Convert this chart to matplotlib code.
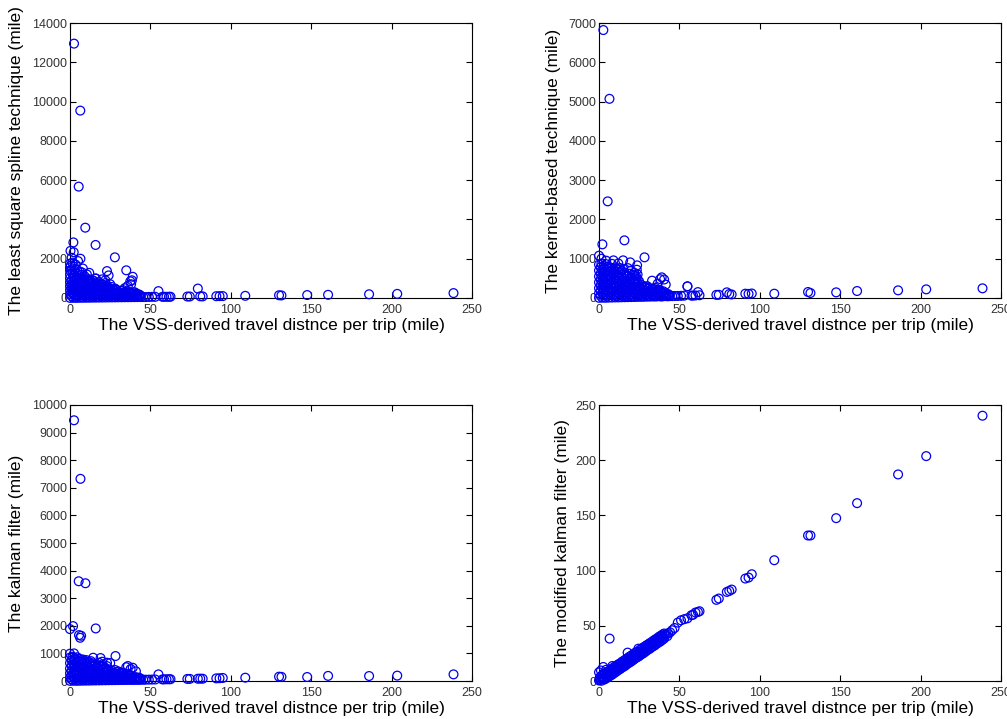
import matplotlib
matplotlib.use("Agg")
import matplotlib.pyplot as plt

plt.rcParams['font.family'] = ['Liberation Sans', 'DejaVu Sans']

# ---------------- data ----------------
x_label = "The VSS-derived travel distnce per trip (mile)"
y_labels = ["The least square spline technique (mile)",
            "The kernel-based technique (mile)",
            "The kalman filter (mile)",
            "The modified kalman filter (mile)"]
x_ticks = [0, 50, 100, 150, 200, 250]
y_ticks = [[0, 2000, 4000, 6000, 8000, 10000, 12000, 14000],
           [0, 1000, 2000, 3000, 4000, 5000, 6000, 7000],
           [0, 1000, 2000, 3000, 4000, 5000, 6000, 7000, 8000, 9000, 10000],
           [0, 50, 100, 150, 200, 250]]

# long trips (shared VSS distances, > 45 miles)
tail_x = [45.5, 47, 49, 51, 53, 55, 57.5, 58.5, 60, 61.5, 62.5, 73, 74.5, 79.5,
          81, 82.5, 91, 93, 95, 109, 130, 131.5, 147.5, 160.5, 186, 203.5, 238.5]
spline_tail_y = [50, 48, 55, 60, 60, 350, 60, 65, 62, 64, 65, 75, 76, 480,
                 85, 82, 92, 95, 97, 110, 140, 130, 150, 162, 190, 210, 250]
kernel_tail_y = [48, 50, 52, 55, 60, 295, 60, 62, 65, 150, 70, 80, 82, 144,
                 100, 90, 110, 105, 115, 110, 153, 127, 144, 178, 195, 220, 246]
kalman_tail_y = [45, 48, 50, 52, 55, 240, 58, 60, 62, 63, 65, 75, 76, 82,
                 85, 83, 95, 100, 110, 120, 157, 150, 145, 185, 180, 195, 240]
modkal_tail_y = [46, 48, 52.9, 55, 56, 56.8, 59.6, 60, 62, 62.5, 63.2, 73.5, 74.7, 80.7,
                 81.6, 82.8, 92.8, 93.7, 96.7, 109.4, 131.8, 131.8, 147.5, 161.1, 187.1, 203.7, 240.3]

# short trips, least square spline technique
spline_pts = [
    (2.5, 12950), (6.4, 9540), (5.4, 5670), (9.5, 3580), (15.9, 2700), (2.1, 2830),
    (27.9, 2070), (0.3, 2400), (2.3, 2330), (6.5, 2000), (5, 1880), (35, 1410),
    (23, 1370), (39, 1080), (37.5, 850), (12, 1280), (1, 2050), (3.5, 1700),
    (8, 1500), (16, 1000), (20, 950), (24, 1150), (25, 700), (36, 620), (38, 700),
    (33, 400), (41, 250), (30, 300), (22, 900), (38.5, 900), (34, 500),
    (0, 1750), (0.5, 1650), (1.5, 1800), (2.5, 1600), (0, 1550),
    (0, 1400), (1, 1450), (3, 1380), (4.5, 1420), (6, 1350), (7.5, 1300),
    (0, 1200), (1.5, 1250), (3, 1150), (5, 1220), (7, 1180), (9, 1120), (10.5, 1200),
    (0, 1000), (2, 1050), (4, 980), (6, 1020), (8, 960), (10, 1000), (12, 950),
    (14, 900), (16, 980),
    (1, 900), (3, 920), (5, 880), (7, 940), (9, 900), (11, 860), (13, 850), (15, 860),
    (0, 800), (2, 820), (4, 780), (6, 840), (8, 800), (10, 760), (12, 820), (14, 780),
    (16, 740), (18, 800), (20, 700), (22, 760),
    (1, 700), (3, 720), (5, 680), (7, 740), (9, 700), (11, 660), (13, 720), (15, 680),
    (17, 640), (19, 700), (21, 650), (23, 620),
    (0, 600), (2, 620), (4, 580), (6, 640), (8, 600), (10, 560), (12, 620), (14, 580),
    (16, 540), (18, 600), (20, 560), (22, 600), (24, 520), (26, 560), (28, 480),
    (1, 500), (3, 520), (5, 480), (7, 540), (9, 500), (11, 460), (13, 520), (15, 480),
    (17, 440), (19, 500), (21, 460), (23, 510), (25, 470), (27, 430), (29, 420),
    (0, 400), (2, 420), (4, 380), (6, 440), (8, 400), (10, 360), (12, 420), (14, 380),
    (16, 340), (18, 400), (20, 360), (22, 420), (24, 380), (26, 340), (28, 380),
    (30, 320), (32, 360), (34, 300), (36, 340), (38, 260), (40, 300),
    (1, 300), (3, 320), (5, 280), (7, 340), (9, 300), (11, 260), (13, 320), (15, 280),
    (17, 240), (19, 300), (21, 260), (23, 320), (25, 280), (27, 240), (29, 280),
    (31, 250), (33, 270), (35, 230), (37, 250), (39, 210), (41, 220), (43, 180),
    (0, 200), (2, 220), (4, 180), (6, 240), (8, 200), (10, 160), (12, 220), (14, 180),
    (16, 140), (18, 200), (20, 160), (22, 220), (24, 180), (26, 140), (28, 200),
    (30, 160), (32, 220), (34, 180), (36, 140), (38, 200), (40, 160), (42, 180), (44, 120),
    (1, 100), (3, 110), (5, 90), (7, 120), (9, 100), (11, 80), (13, 110), (15, 90),
    (17, 70), (19, 100), (21, 80), (23, 110), (25, 90), (27, 70), (29, 100), (31, 80),
    (33, 110), (35, 90), (37, 70), (39, 100), (41, 80), (43, 90),
    (0, 5), (2, 8), (4, 6), (6, 10), (8, 12), (10, 14), (12, 15), (14, 18), (16, 20),
    (18, 22), (20, 24), (22, 26), (24, 28), (26, 30), (28, 32), (30, 34), (32, 36),
    (34, 38), (36, 40), (38, 42), (40, 44), (42, 46), (44, 48),
]

# short trips, kernel-based technique
kernel_pts = [
    (2.7, 6820), (6.5, 5070), (5.4, 2460), (2.1, 1366), (15.8, 1467), (28.3, 1035),
    (0, 1077), (39, 526), (55, 297), (33, 441), (36.5, 365), (41.5, 340), (23.7, 831),
    (9, 958), (15, 958), (19.4, 907), (4.5, 950), (12, 880), (38, 480), (30, 300),
    (35, 260), (1.5, 1000), (24, 600), (40.5, 470),
    (0, 850), (1.5, 880), (3, 820), (4.5, 860), (6, 800), (8, 870), (10, 780),
    (1, 780), (3, 760), (5, 790), (7, 770), (9, 740), (11, 750), (13, 760), (15, 740),
    (0, 700), (2, 720), (4, 680), (6, 740), (8, 700), (10, 660), (12, 720), (14, 690),
    (16, 650), (18, 760), (20, 700), (22, 640), (23.5, 720),
    (1, 620), (3, 640), (5, 600), (7, 660), (9, 620), (11, 590), (13, 640), (15, 600),
    (17, 580), (19, 620), (21, 590), (23, 560),
    (0, 550), (2, 570), (4, 530), (6, 590), (8, 550), (10, 510), (12, 570), (14, 530),
    (16, 490), (18, 550), (20, 510), (22, 570), (24, 480),
    (1, 470), (3, 490), (5, 460), (7, 510), (9, 470), (11, 440), (13, 490), (15, 450),
    (17, 420), (19, 470), (21, 440), (23, 480), (25, 420),
    (0, 400), (2, 420), (4, 380), (6, 440), (8, 400), (10, 360), (12, 420), (14, 380),
    (16, 340), (18, 400), (20, 360), (22, 420), (24, 380), (26, 340), (28, 300),
    (1, 320), (3, 340), (5, 310), (7, 350), (9, 320), (11, 300), (13, 340), (15, 310),
    (17, 290), (19, 330), (21, 300), (23, 330), (25, 300), (27, 280), (29, 260),
    (31, 250), (33, 240), (35, 220), (37, 210),
    (0, 250), (2, 270), (4, 230), (6, 260), (8, 240), (10, 280), (12, 230), (14, 260),
    (16, 220), (18, 270), (20, 230), (22, 250), (24, 210), (26, 240), (28, 200),
    (30, 230), (32, 190), (34, 210), (36, 180), (38, 200), (40, 170),
    (1, 180), (3, 190), (5, 170), (7, 200), (9, 180), (11, 160), (13, 190), (15, 170),
    (17, 150), (19, 180), (21, 160), (23, 190), (25, 170), (27, 150), (29, 170),
    (31, 150), (33, 160), (35, 140), (37, 150), (39, 130), (41, 120), (43, 100),
    (0, 120), (2, 130), (4, 110), (6, 140), (8, 120), (10, 100), (12, 130), (14, 110),
    (16, 90), (18, 120), (20, 100), (22, 130), (24, 110), (26, 90), (28, 120),
    (30, 100), (32, 120), (34, 90), (36, 110), (38, 80), (40, 100), (42, 90), (44, 70),
    (1, 60), (3, 65), (5, 55), (7, 70), (9, 60), (11, 50), (13, 65), (15, 55),
    (17, 45), (19, 60), (21, 50), (23, 65), (25, 55), (27, 45), (29, 60), (31, 50),
    (33, 60), (35, 45), (37, 55), (39, 40), (41, 50), (43, 45),
    (0, 5), (2, 8), (4, 6), (6, 10), (8, 12), (10, 14), (12, 15), (14, 18), (16, 20),
    (18, 22), (20, 24), (22, 26), (24, 28), (26, 30), (28, 32), (30, 34), (32, 36),
    (34, 38), (36, 40), (38, 42), (40, 44), (42, 46), (44, 48),
]

# short trips, kalman filter
kalman_pts = [
    (2.5, 9446), (6.5, 7325), (5.4, 3614), (9.6, 3542), (16, 1904), (0, 1880),
    (1.9, 1988), (5.6, 1663), (6.9, 1639), (6.3, 1566), (28.3, 904), (14.4, 843),
    (19, 831), (23, 663), (36, 542), (37.7, 434), (2.5, 1000), (0, 990),
    (35, 500), (39, 480), (25, 650), (30, 350), (32, 300), (41, 350), (20, 700),
    (0, 850), (1.5, 880), (3, 820), (4.5, 860), (6, 800), (8, 780), (10, 760),
    (1, 750), (3, 770), (5, 730), (7, 760), (9, 720), (11, 700), (13, 720),
    (0, 650), (2, 680), (4, 640), (6, 700), (8, 660), (10, 620), (12, 680), (14, 640),
    (16, 600), (18, 660), (20, 600),
    (1, 550), (3, 570), (5, 530), (7, 590), (9, 550), (11, 510), (13, 570), (15, 530),
    (17, 500), (19, 550), (21, 520), (23, 540),
    (0, 450), (2, 470), (4, 430), (6, 490), (8, 450), (10, 410), (12, 470), (14, 430),
    (16, 390), (18, 450), (20, 410), (22, 470), (24, 420), (26, 380), (28, 400),
    (1, 360), (3, 380), (5, 340), (7, 400), (9, 360), (11, 320), (13, 380), (15, 340),
    (17, 310), (19, 360), (21, 320), (23, 370), (25, 330), (27, 300), (29, 330),
    (31, 290), (33, 300),
    (0, 280), (2, 300), (4, 260), (6, 320), (8, 280), (10, 240), (12, 300), (14, 260),
    (16, 220), (18, 280), (20, 240), (22, 300), (24, 260), (26, 220), (28, 280),
    (30, 240), (32, 260), (34, 220), (36, 250), (38, 200),
    (1, 200), (3, 220), (5, 190), (7, 230), (9, 200), (11, 170), (13, 220), (15, 190),
    (17, 160), (19, 200), (21, 170), (23, 210), (25, 180), (27, 160), (29, 190),
    (31, 170), (33, 190), (35, 160), (37, 170), (39, 150), (41, 140), (43, 120),
    (0, 130), (2, 150), (4, 110), (6, 160), (8, 130), (10, 100), (12, 150), (14, 120),
    (16, 90), (18, 140), (20, 110), (22, 150), (24, 120), (26, 90), (28, 130),
    (30, 100), (32, 140), (34, 110), (36, 90), (38, 120), (40, 100), (42, 110), (44, 80),
    (1, 60), (3, 70), (5, 55), (7, 75), (9, 60), (11, 50), (13, 70), (15, 55),
    (17, 45), (19, 65), (21, 50), (23, 70), (25, 55), (27, 45), (29, 60), (31, 50),
    (33, 65), (35, 50), (37, 55), (39, 45), (41, 50), (43, 45),
    (0, 5), (2, 8), (4, 6), (6, 10), (8, 12), (10, 14), (12, 15), (14, 18), (16, 20),
    (18, 22), (20, 24), (22, 26), (24, 28), (26, 30), (28, 32), (30, 34), (32, 36),
    (34, 38), (36, 40), (38, 42), (40, 44), (42, 46), (44, 48),
]

# short trips, modified kalman filter
modkal_pts = [
    (6.6, 38.4), (17.8, 25.7), (24.5, 29.3), (2.7, 12.7), (8.3, 13.6), (0, 7.9),
    (44.2, 44.1), (1.2, 9.5), (4.5, 10.2),
    (0, 0.5), (1, 1.8), (2, 2.4), (3, 3.1), (4, 4.6), (5, 5.2), (6, 6.3), (7, 7.4),
    (8, 8.1), (9, 9.5), (10, 10.2), (11, 11.4), (12, 12.3), (13, 13.6), (14, 14.2),
    (15, 15.5), (16, 16.1), (17, 17.4), (18, 18.6), (19, 19.2), (20, 20.5), (21, 21.3),
    (22, 22.6), (23, 23.2), (24, 24.4), (25, 25.6), (26, 26.1), (27, 27.5), (28, 28.3),
    (29, 29.4), (30, 30.6), (31, 31.2), (32, 32.5), (33, 33.3), (34, 34.6), (35, 35.2),
    (36, 36.4), (37, 37.5), (38, 38.3), (39, 39.6), (40, 40.2), (41, 41.5), (42, 42.4),
    (43, 43.2),
    (0.5, 3.2), (1.5, 4.6), (2.5, 5.8), (3.5, 6.5), (4.5, 7.9), (5.5, 8.4), (6.5, 9.6),
    (7.5, 10.8), (8.5, 11.5), (9.5, 12.7), (10.5, 13.4), (11.5, 14.6), (12.5, 15.5),
    (13.5, 16.3), (14.5, 17.6), (15.5, 18.4), (16.5, 19.5), (17.5, 20.3), (18.5, 21.6),
    (19.5, 22.4), (20.5, 23.5), (21.5, 24.2), (22.5, 25.6), (23.5, 26.4), (25.5, 28.3),
    (26.5, 29.1), (27.5, 30.4), (28.5, 31.2), (29.5, 32.3), (30.5, 33.1), (31.5, 34.2),
    (32.5, 35.0), (33.5, 36.1), (34.5, 37.2), (35.5, 38.0), (36.5, 39.1), (37.5, 40.2),
    (38.5, 41.0), (39.5, 42.1), (40.5, 43.0),
    (1.5, 0.2), (3.5, 1.4), (5.5, 3.1), (7.5, 5.2), (9.5, 7.3), (11.5, 9.4), (13.5, 11.2),
    (15.5, 13.1), (17.5, 15.4), (19.5, 17.2), (21.5, 19.3), (23.5, 21.4), (25.5, 23.2),
    (27.5, 25.1), (29.5, 27.3), (31.5, 29.2), (33.5, 31.4), (35.5, 33.3), (37.5, 35.2),
    (39.5, 37.4),
    (0.5, 1.2), (2.5, 1.6), (4.5, 2.9), (6.5, 4.4), (8.5, 6.1), (10.5, 8.2), (12.5, 10.3),
    (14.5, 12.4), (16.5, 14.1), (18.5, 16.3), (20.5, 18.2), (22.5, 20.4), (24.5, 22.1),
    (26.5, 24.3), (28.5, 26.2), (30.5, 28.4), (32.5, 30.3), (34.5, 32.1), (36.5, 34.4),
    (38.5, 36.2), (40.5, 38.5), (42.5, 40.6),
]

panels = [
    (spline_pts, spline_tail_y, 14000),
    (kernel_pts, kernel_tail_y, 7000),
    (kalman_pts, kalman_tail_y, 10000),
    (modkal_pts, modkal_tail_y, 250),
]

# ---------------- figure ----------------
fig = plt.figure(figsize=(10.07, 7.19), dpi=100)
positions = [
    [70 / 1007, 1 - 298 / 719, 402 / 1007, 275 / 719],
    [599 / 1007, 1 - 298 / 719, 402 / 1007, 275 / 719],
    [70 / 1007, 1 - 681 / 719, 402 / 1007, 276 / 719],
    [599 / 1007, 1 - 681 / 719, 402 / 1007, 276 / 719],
]
ylabel_pads = [6, 5, 6, 4]

for i, (pts, tail_y, ymax) in enumerate(panels):
    ax = fig.add_axes(positions[i])
    xs = [p[0] for p in pts] + tail_x
    ys = [p[1] for p in pts] + tail_y
    ax.scatter(xs, ys, s=40, marker='o', facecolors='none',
               edgecolors='#0000ee', linewidths=0.9, clip_on=False, zorder=3)
    ax.set_xlim(0, 250)
    ax.set_ylim(0, ymax)
    ax.set_xticks(x_ticks)
    ax.set_yticks(y_ticks[i])
    ax.set_xticklabels([str(t) for t in x_ticks])
    ax.set_yticklabels([str(t) for t in y_ticks[i]])
    ax.tick_params(direction='in', top=True, right=True, length=4, width=0.8,
                   labelsize=9, colors='black', labelcolor='#333333', pad=2)
    ax.tick_params(axis='x', pad=4)
    for sp in ax.spines.values():
        sp.set_linewidth(0.8)
    ax.set_xlabel(x_label, fontsize=12.5, labelpad=2)
    ax.set_ylabel(y_labels[i], fontsize=12.5, labelpad=ylabel_pads[i])

fig.savefig("out.png", dpi=100)
